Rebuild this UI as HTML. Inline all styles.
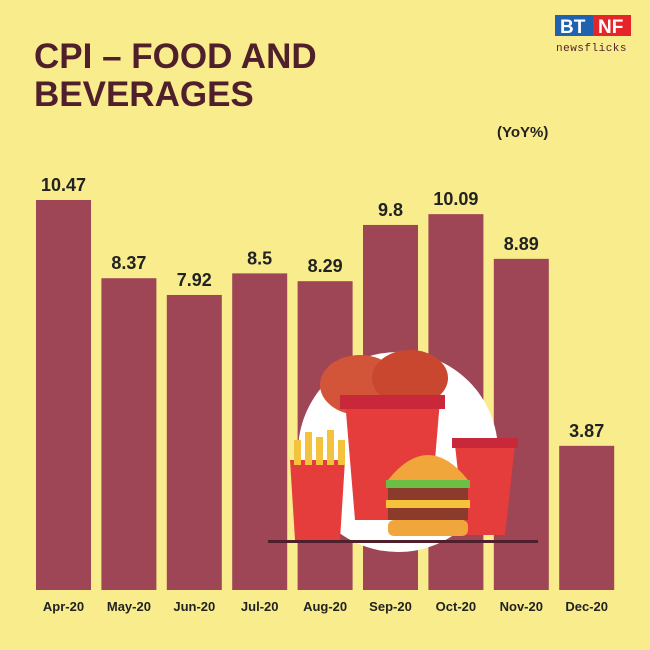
<!DOCTYPE html>
<html><head><meta charset="utf-8"><style>
html,body{margin:0;padding:0;background:#f8ec8c;}
svg{display:block;font-family:"Liberation Sans",sans-serif;}
</style></head><body>
<svg id="chart" width="650" height="650" viewBox="0 0 650 650">
<rect width="650" height="650" fill="#f8ec8c"/>
<text x="34" y="68" font-size="35" font-weight="bold" fill="#4f1f2b">CPI – FOOD AND</text>
<text x="34" y="106" font-size="35" font-weight="bold" fill="#4f1f2b">BEVERAGES</text>
<g>
<rect x="555" y="15" width="38" height="21" fill="#1f63b0"/>
<rect x="593" y="15" width="38" height="21" fill="#e4262a"/>
<text x="560" y="33" font-size="19" font-weight="bold" fill="#fff">BT</text>
<text x="598" y="33" font-size="19" font-weight="bold" fill="#fff">NF</text>
<text x="556" y="51" font-size="11" fill="#4f1f2b" font-family="Liberation Mono,monospace" letter-spacing="0.5">newsflicks</text>
</g>
<text x="497" y="137" font-size="15" font-weight="bold" fill="#222">(YoY%)</text>
<g id="bars"></g>
<g id="illustration">
<circle cx="398" cy="452" r="100" fill="#ffffff"/>
<ellipse cx="360" cy="385" rx="40" ry="30" fill="#d2553a"/>
<ellipse cx="410" cy="378" rx="38" ry="28" fill="#c9472e"/>
<path d="M345 400 L440 400 L430 520 L355 520 Z" fill="#e53c3c"/>
<rect x="340" y="395" width="105" height="14" fill="#c8283a"/>
<path d="M290 460 L345 460 L340 540 L295 540 Z" fill="#e53c3c"/>
<g fill="#f5c33b"><rect x="294" y="440" width="7" height="25"/><rect x="305" y="432" width="7" height="33"/><rect x="316" y="437" width="7" height="28"/><rect x="327" y="430" width="7" height="35"/><rect x="338" y="440" width="7" height="25"/></g>
<path d="M455 445 L515 445 L505 535 L465 535 Z" fill="#e53c3c"/>
<rect x="452" y="438" width="66" height="10" fill="#c8283a"/>
<path d="M388 480 Q428 430 468 480 Z" fill="#f0a63a"/>
<rect x="386" y="480" width="84" height="8" fill="#6cbf45"/>
<rect x="388" y="488" width="80" height="12" fill="#8a3b2c"/>
<rect x="386" y="500" width="84" height="8" fill="#f5c33b"/>
<rect x="388" y="508" width="80" height="12" fill="#8a3b2c"/>
<rect x="388" y="520" width="80" height="16" rx="6" fill="#f0a63a"/>
<rect x="268" y="540" width="270" height="3" fill="#4f1f2b"/>
</g>
<g id="labels"></g>
</svg>
<script>
const categories=["Apr-20","May-20","Jun-20","Jul-20","Aug-20","Sep-20","Oct-20","Nov-20","Dec-20"];
const values=[10.47,8.37,7.92,8.5,8.29,9.8,10.09,8.89,3.87];
const valueLabels=["10.47","8.37","7.92","8.5","8.29","9.8","10.09","8.89","3.87"];
const NS="http://www.w3.org/2000/svg";
const base=590, scale=37.25, x0=36, step=65.4, bw=55;
function xPos(i){return x0+i*step;}
function yPos(v){return base-v*scale;}
const bars=document.getElementById('bars'), labels=document.getElementById('labels');
categories.forEach((c,i)=>{
  const r=document.createElementNS(NS,'rect');
  r.setAttribute('x',xPos(i));r.setAttribute('y',yPos(values[i]));
  r.setAttribute('width',bw);r.setAttribute('height',base-yPos(values[i]));
  r.setAttribute('fill','#9e4556');
  
  
  bars.appendChild(r);
  const t=document.createElementNS(NS,'text');
  t.setAttribute('x',xPos(i)+bw/2);t.setAttribute('y',yPos(values[i])-9);
  t.setAttribute('text-anchor','middle');t.setAttribute('font-size','18');t.setAttribute('font-weight','bold');t.setAttribute('fill','#222');
  t.textContent=valueLabels[i];
  
  
  labels.appendChild(t);
  const l=document.createElementNS(NS,'text');
  l.setAttribute('x',xPos(i)+bw/2);l.setAttribute('y',611);
  l.setAttribute('text-anchor','middle');l.setAttribute('font-size','13');l.setAttribute('font-weight','bold');l.setAttribute('fill','#222');
  l.textContent=c;
  
  
  labels.appendChild(l);
});
</script>
</body></html>
